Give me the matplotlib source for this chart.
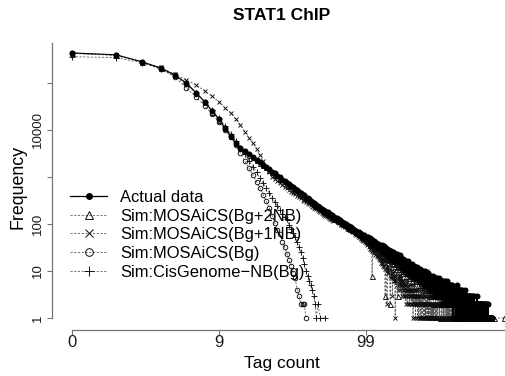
import numpy as np
import matplotlib
matplotlib.use("Agg")
import matplotlib.pyplot as plt
from matplotlib.lines import Line2D
from matplotlib.ticker import NullLocator

plt.rcParams['font.family'] = ['Liberation Sans', 'DejaVu Sans']

title = "STAT1 ChIP"
x_label = "Tag count"
y_label = "Frequency"
x_ticks = [0, 9, 99]
x_tick_labels = ["0", "9", "99"]
y_ticks = [1, 10, 100, 1000, 10000, 100000]
y_tick_labels = ["1", "10", "100", "", "10000", ""]

series_labels = ["Actual data", "Sim:MOSAiCS(Bg+2NB)", "Sim:MOSAiCS(Bg+1NB)",
                 "Sim:MOSAiCS(Bg)", "Sim:CisGenome\u2212NB(Bg)"]

# frequency of each tag count, starting at count 0 (0 = count not observed)
actual_freq = [
    436000, 398000, 282000, 209000, 148000, 100000, 61700, 39800, 25100, 17000, 11000, 7410, 5250, 4170, 3550, 3020, 2630, 2290, 2040, 1820,
    1620, 1462, 1281, 1190, 1058, 985, 884, 820, 748, 701, 640, 611, 546, 531, 484, 462, 421, 405, 366, 359,
    334, 312, 298, 279, 272, 247, 243, 225, 221, 205, 203, 188, 190, 172, 176, 161, 164, 149, 152, 139,
    143, 133, 131, 124, 126, 114, 120, 109, 108, 103, 104, 95, 100, 92, 91, 88, 89, 82, 85, 77,
    80, 74, 76, 71, 72, 68, 69, 64, 67, 60, 65, 59, 61, 56, 58, 54, 57, 51, 54, 50,
    52, 45, 53, 44, 49, 41, 50, 47, 38, 46, 40, 44, 37, 43, 35, 41, 39, 33, 38, 34,
    37, 31, 36, 30, 35, 28, 33, 36, 27, 32, 29, 34, 25, 30, 28, 24, 31, 26, 29, 23,
    27, 22, 28, 21, 25, 19, 26, 23, 18, 24, 21, 25, 17, 22, 20, 24, 16, 21, 19, 22,
    18, 23, 15, 20, 17, 21, 14, 19, 16, 22, 13, 18, 15, 19, 12, 17, 14, 18, 15, 13,
    17, 12, 15, 14, 11, 16, 13, 10, 15, 12, 14, 11, 16, 9, 13, 12, 10, 14, 11, 12,
    10, 13, 9, 12, 11, 14, 8, 12, 10, 9, 13, 11, 8, 10, 12, 9, 11, 7, 10, 9,
    12, 8, 10, 9, 7, 11, 9, 8, 10, 6, 9, 11, 8, 7, 10, 9, 6, 8, 10, 7,
    9, 8, 6, 10, 7, 8, 9, 5, 8, 7, 10, 6, 8, 7, 9, 5, 7, 8, 6, 9,
    7, 6, 8, 5, 7, 9, 6, 5, 7, 8, 4, 6, 7, 5, 8, 6, 7, 4, 6, 5,
    7, 5, 6, 4, 8, 5, 6, 7, 4, 5, 6, 3, 7, 5, 6, 4, 5, 7, 3, 6,
    5, 6, 4, 5, 7, 3, 5, 6, 4, 5, 3, 6, 5, 4, 7, 4, 5, 3, 6, 4,
    5, 4, 6, 3, 5, 4, 2, 5, 6, 4, 3, 5, 4, 6, 3, 4, 5, 2, 4, 5,
    3, 5, 4, 6, 3, 4, 2, 5, 4, 3, 5, 4, 3, 6, 2, 4, 5, 3, 4, 3,
    4, 2, 5, 3, 4, 3, 5, 2, 4, 3, 4, 5, 2, 3, 4, 3, 2, 5, 3, 4,
    3, 4, 2, 3, 5, 3, 2, 4, 3, 1, 4, 3, 2, 4, 3, 2, 3, 4, 2, 3,
    3, 2, 4, 3, 1, 3, 2, 4, 2, 3, 3, 1, 4, 2, 3, 2, 3, 5, 2, 3,
    2, 3, 1, 4, 2, 3, 2, 3, 1, 2, 4, 3, 2, 1, 3, 2, 3, 2, 4, 1,
    3, 2, 3, 1, 2, 4, 2, 3, 2, 1, 3, 2, 4, 2, 1, 3, 2, 2, 3, 1,
    2, 3, 1, 2, 3, 2, 1, 3, 2, 4, 1, 2, 3, 2, 1, 2, 3, 1, 2, 2,
    3, 1, 2, 2, 1, 3, 2, 1, 2, 3, 1, 2, 0, 3, 2, 1, 2, 2, 1, 3,
    2, 1, 2, 3, 1, 2, 0, 2, 1, 3, 2, 1, 2, 1, 0, 2, 3, 1, 2, 1,
    2, 1, 0, 2, 3, 1, 2, 1, 2, 0, 1, 2, 2, 1, 3, 1, 0, 2, 1, 2,
    1, 2, 1, 0, 2, 1, 3, 1, 2, 0, 1, 2, 1, 2, 0, 1, 2, 1, 1, 2,
    0, 1, 2, 1, 0, 2, 1, 1, 3, 1, 0, 2, 1, 1, 2, 0, 1, 2, 1, 0,
    2, 1, 1, 0, 2, 1, 0, 1, 2, 1, 1, 0, 2, 1, 1, 2, 0, 1, 1, 2,
    1, 0, 1, 2, 1, 1, 0, 2, 1, 0, 1, 1, 2, 0, 1, 1, 0, 2, 1, 1,
    0, 1, 1, 2, 0, 1, 1, 0, 1, 2, 1, 0, 1, 1, 0, 1, 2, 1, 0, 1,
    1, 1, 0, 1, 2, 0, 1, 1, 0, 1, 1, 0, 2, 1, 0, 1, 1, 1, 0, 1,
    1, 0, 1, 1, 0, 2, 1, 0, 1, 1, 0, 1, 0, 1, 1, 0, 1, 2, 0, 1,
    0, 1, 1, 0, 1, 0, 1, 1, 0, 1, 0, 1, 1, 0, 0, 1, 1, 0, 1, 0,
    1, 0, 0, 1, 1, 0, 1, 0, 0, 1, 1, 0, 0, 1, 0, 1, 0, 0, 1, 1,
]

sim_bg2nb_freq = [
    430000, 392000, 279000, 205000, 146000, 98500, 60800, 39000, 24600, 16700, 10800, 7300, 5200, 4120, 3500, 2990, 2600, 2270, 2010, 1800,
    1600, 1440, 1300, 1165, 1080, 962, 900, 805, 765, 688, 652, 596, 558, 518, 495, 450, 432, 392, 377, 350,
    338, 309, 300, 276, 265, 254, 237, 231, 215, 212, 197, 192, 184, 178, 170, 166, 158, 153, 147, 143,
    138, 130, 132, 123, 124, 115, 117, 107, 110, 100, 103, 95, 97, 89, 92, 84, 87, 79, 82, 75,
    78, 74, 73, 70, 71, 66, 68, 63, 65, 60, 62, 57, 59, 55, 56, 52, 54, 49, 52, 48,
    46, 50, 41, 47, 43, 38, 45, 40, 36, 8, 34, 39, 37, 31, 38, 33, 35, 29, 34, 30,
    32, 27, 31, 25, 29, 24, 26, 30, 22, 27, 24, 20, 28, 21, 3, 23, 19, 24, 18, 22,
    20, 23, 17, 21, 19, 2, 22, 16, 20, 15, 18, 21, 14, 19, 16, 17, 13, 18, 15, 16,
    14, 17, 12, 3, 15, 13, 16, 11, 14, 12, 15, 10, 13, 14, 11, 12, 9, 13, 11, 12,
    10, 13, 9, 12, 11, 8, 12, 10, 9, 11, 13, 8, 10, 9, 12, 7, 10, 11, 8, 9,
    10, 8, 11, 7, 9, 10, 6, 9, 8, 11, 7, 9, 8, 6, 10, 8, 7, 9, 6, 8,
    9, 7, 6, 8, 10, 5, 7, 8, 6, 9, 7, 5, 8, 6, 7, 9, 5, 6, 8, 7,
    6, 5, 8, 7, 4, 6, 7, 5, 8, 6, 4, 7, 5, 6, 8, 4, 6, 5, 7, 4,
    6, 5, 4, 7, 5, 6, 3, 5, 7, 4, 6, 5, 3, 6, 4, 5, 7, 3, 5, 4,
    5, 4, 6, 3, 5, 4, 2, 6, 4, 5, 3, 4, 5, 3, 6, 2, 4, 5, 3, 4,
    4, 3, 5, 2, 4, 3, 5, 4, 2, 3, 4, 5, 3, 2, 4, 3, 1, 4, 3, 2,
    3, 4, 2, 5, 3, 2, 4, 3, 1, 3, 4, 2, 3, 2, 4, 1, 3, 2, 4, 3,
    2, 3, 4, 1, 3, 2, 3, 2, 4, 1, 2, 3, 3, 2, 1, 4, 2, 3, 2, 1,
    3, 2, 1, 3, 2, 4, 2, 1, 3, 2, 2, 3, 1, 2, 3, 1, 2, 4, 2, 1,
    2, 3, 1, 2, 2, 1, 3, 2, 1, 2, 3, 1, 2, 2, 1, 3, 1, 2, 2, 1,
    3, 1, 2, 1, 2, 2, 1, 3, 1, 2, 1, 2, 3, 1, 1, 2, 1, 2, 0, 2,
    1, 2, 1, 0, 2, 1, 3, 1, 2, 1, 1, 2, 0, 1, 2, 1, 1, 2, 1, 0,
    2, 1, 1, 2, 0, 1, 2, 1, 1, 0, 2, 1, 1, 2, 1, 0, 1, 2, 1, 1,
    0, 1, 2, 1, 1, 0, 1, 1, 2, 0, 1, 1, 0, 2, 1, 1, 0, 1, 1, 2,
    1, 0, 1, 1, 0, 2, 1, 0, 1, 1, 0, 1, 1, 0, 1, 2, 0, 1, 0, 1,
    1, 1, 0, 1, 0, 1, 1, 0, 2, 1, 0, 1, 0, 1, 1, 0, 1, 0, 1, 1,
    0, 1, 0, 1, 1, 0, 1, 0, 0, 1, 1, 0, 1, 0, 1, 0, 1, 1, 0, 0,
    1, 0, 1, 0, 1, 1, 0, 0, 1, 0, 1, 0, 0, 1, 1, 0, 0, 1, 0, 1,
    0, 1, 0, 0, 1, 0, 1, 0, 0, 1, 0, 1, 0, 0, 1, 0, 0, 1, 0, 0,
    1, 0, 0, 1, 0, 0, 1, 0, 1, 0, 0, 0, 1, 0, 0, 1, 0, 0, 1, 0,
]
# isolated counts beyond the dense range, each seen once
sim_bg2nb_single = [617, 644, 671, 705, 742, 868]

sim_bg1nb_freq = [
    436000, 389000, 282000, 214000, 155000, 115000, 91200, 67600, 52500, 39800, 29500, 22900, 17000, 12900, 9120, 6760, 5250, 3980, 2950, 2190,
    1620, 1260, 1000, 891, 813, 741, 676, 617, 575, 525, 490, 457, 427, 398, 372, 355, 331, 309, 295, 275,
    263, 251, 234, 224, 214, 204, 195, 186, 178, 170, 162, 155, 151, 145, 138, 135, 129, 126, 120, 117,
    124, 119, 121, 110, 113, 104, 108, 97, 101, 92, 96, 86, 91, 83, 86, 77, 81, 74, 78, 70,
    71, 66, 68, 62, 64, 58, 61, 55, 57, 52, 54, 49, 51, 46, 49, 44, 47, 42, 45, 40,
    42, 36, 39, 33, 37, 30, 34, 28, 32, 26, 30, 25, 29, 24, 27, 22, 26, 21, 24, 20,
    22, 18, 21, 17, 20, 15, 19, 14, 18, 13, 17, 12, 16, 11, 15, 12, 14, 10, 2, 11,
    13, 9, 12, 10, 8, 11, 9, 7, 10, 8, 3, 9, 7, 6, 8, 10, 6, 1, 7, 8,
    6, 9, 5, 7, 8, 4, 6, 7, 5, 8, 4, 6, 5, 7, 3, 6, 5, 4, 6, 3,
    5, 4, 6, 3, 5, 4, 2, 5, 4, 3, 6, 2, 4, 5, 3, 4, 2, 5, 3, 4,
    3, 4, 2, 5, 3, 2, 4, 3, 1, 4, 3, 2, 5, 3, 2, 4, 1, 3, 2, 4,
    2, 3, 4, 1, 3, 2, 3, 1, 4, 2, 3, 2, 1, 3, 2, 4, 1, 2, 3, 2,
    1, 3, 2, 2, 4, 1, 2, 3, 1, 2, 2, 3, 1, 2, 1, 3, 2, 1, 2, 10,
    1, 2, 3, 1, 2, 1, 2, 1, 3, 2, 1, 1, 2, 0, 2, 1, 3, 1, 1, 2,
    1, 0, 2, 1, 1, 2, 1, 0, 2, 1, 1, 0, 1, 2, 1, 1, 0, 2, 1, 0,
    1, 1, 2, 0, 1, 1, 0, 2, 1, 0, 1, 1, 0, 1, 2, 0, 1, 0, 1, 1,
    0, 1, 1, 0, 2, 1, 0, 1, 0, 1, 1, 0, 1, 1, 0, 0, 1, 2, 0, 1,
    1, 0, 0, 1, 1, 0, 1, 0, 1, 0, 0, 1, 1, 0, 1, 0, 0, 1, 0, 1,
    0, 1, 0, 0, 1, 0, 1, 0, 0, 1, 0, 0, 1, 0, 1, 0, 0, 0, 1, 0,
]
sim_bg1nb_single = [392, 415, 437, 470, 512, 548, 590]

sim_bg_freq = [
    427000, 389000, 275000, 200000, 135000, 77600, 50100, 32400, 21900, 14800, 10000, 7080, 4790, 3240, 2140, 1550, 1100, 794, 589, 417,
    302, 219, 151, 105, 76, 60, 42, 32, 23, 17, 13, 9, 7, 4, 3, 2, 2, 2, 1,
]

sim_cis_freq = [
    363000, 347000, 269000, 200000, 141000, 93300, 60300, 39800, 26300, 17800, 12000, 8320, 5890, 4170, 3020, 2240, 1660, 1260, 955, 741,
    575, 457, 363, 295, 240, 195, 162, 140, 126, 93, 78, 63, 52, 42, 33, 25, 19, 14, 10, 8,
    6, 5, 4, 3, 2, 1, 2, 0, 1, 0, 0, 0, 1,
]


def observed(freq, single=()):
    """Counts with a non-zero frequency, plus isolated counts seen once."""
    freq = np.asarray(freq, dtype=float)
    counts = np.arange(len(freq))
    keep = freq > 0
    c = np.concatenate([counts[keep], np.asarray(single, dtype=float)])
    f = np.concatenate([freq[keep], np.ones(len(single))])
    return c, f


fig = plt.figure(figsize=(5.06, 3.76), dpi=100)
W, H = 506, 376
ax = fig.add_axes([57 / W, 1 - 327 / H, 449 / W, 284 / H])

# x axis on log10(count + 1)
ax.set_xscale('function', functions=(lambda c: np.log10(c + 1.0),
                                     lambda l: 10.0 ** l - 1.0))
ax.set_yscale('log')

sim_line = dict(color='0.35', lw=0.6, dashes=(2.5, 2))
mk_col = '0.05'

c, f = observed(sim_cis_freq)
ax.plot(c, f, marker='+', ms=4.5, mew=0.65, mec=mk_col, **sim_line)
c, f = observed(sim_bg_freq)
ax.plot(c, f, marker='o', ms=3.3, mew=0.65, mfc='none', mec=mk_col, **sim_line)
c, f = observed(sim_bg1nb_freq, sim_bg1nb_single)
ax.plot(c, f, marker='x', ms=3.5, mew=0.65, mec=mk_col, **sim_line)
c, f = observed(sim_bg2nb_freq, sim_bg2nb_single)
ax.plot(c, f, marker='^', ms=3.6, mew=0.65, mfc='none', mec=mk_col, **sim_line)
c, f = observed(actual_freq)
ax.plot(c, f, color='black', lw=0.8, marker='o', ms=3.3, mfc='black', mec='black')

lo_l, hi_l = (57 - 72) / 147, (506 - 72) / 147
ax.set_xlim(10 ** lo_l - 1, 10 ** hi_l - 1)
ax.set_ylim(10 ** ((318 - 327) / 47), 10 ** ((318 - 43) / 47))

ax.set_xticks(x_ticks, x_tick_labels)
ax.set_yticks(y_ticks, y_tick_labels)
ax.xaxis.set_minor_locator(NullLocator())
ax.yaxis.set_minor_locator(NullLocator())

for s in ('top', 'right'):
    ax.spines[s].set_visible(False)
ax.spines['left'].set_position(('outward', 3.3))
ax.spines['bottom'].set_position(('outward', 1.8))
ax.spines['left'].set_bounds(1, ax.get_ylim()[1])
ax.spines['bottom'].set_bounds(0, ax.get_xlim()[1])
for s in ('left', 'bottom'):
    ax.spines[s].set_color('0.45')
    ax.spines[s].set_linewidth(0.9)

ax.tick_params(axis='both', direction='out', length=3.6, width=0.8, color='0.45')
ax.tick_params(axis='x', labelsize=12, pad=0.5, labelcolor='0.1')
ax.tick_params(axis='y', labelsize=9.5, pad=2.5, labelcolor='0.1', labelrotation=90)
for lbl in ax.get_yticklabels():
    lbl.set_va('center')

fig.text(282 / W, 1 - 19.5 / H, title, ha='center', va='baseline',
         fontsize=12.5, fontweight='bold')
fig.text(282 / W, 1 - 368 / H, x_label, ha='center', va='baseline', fontsize=12.5)
fig.text(18 / W, 1 - 187 / H, y_label, ha='center', va='center', rotation=90,
         fontsize=12.8)

handles = [
    Line2D([], [], color='black', lw=0.9, marker='o', ms=4, mfc='black', mec='black'),
    Line2D([], [], marker='^', ms=6, mew=0.7, mfc='none', mec=mk_col, **sim_line),
    Line2D([], [], marker='x', ms=5.5, mew=0.7, mec=mk_col, **sim_line),
    Line2D([], [], marker='o', ms=5.5, mew=0.7, mfc='none', mec=mk_col, **sim_line),
    Line2D([], [], marker='+', ms=7, mew=0.7, mec=mk_col, **sim_line),
]
fig.legend(handles, series_labels, loc='upper left',
           bbox_to_anchor=(70 / W, 1 - 190 / H), frameon=False,
           fontsize=11.9, handlelength=2.25, handletextpad=0.8,
           labelspacing=0.22, borderpad=0, borderaxespad=0)

fig.savefig('out.png', dpi=100)
